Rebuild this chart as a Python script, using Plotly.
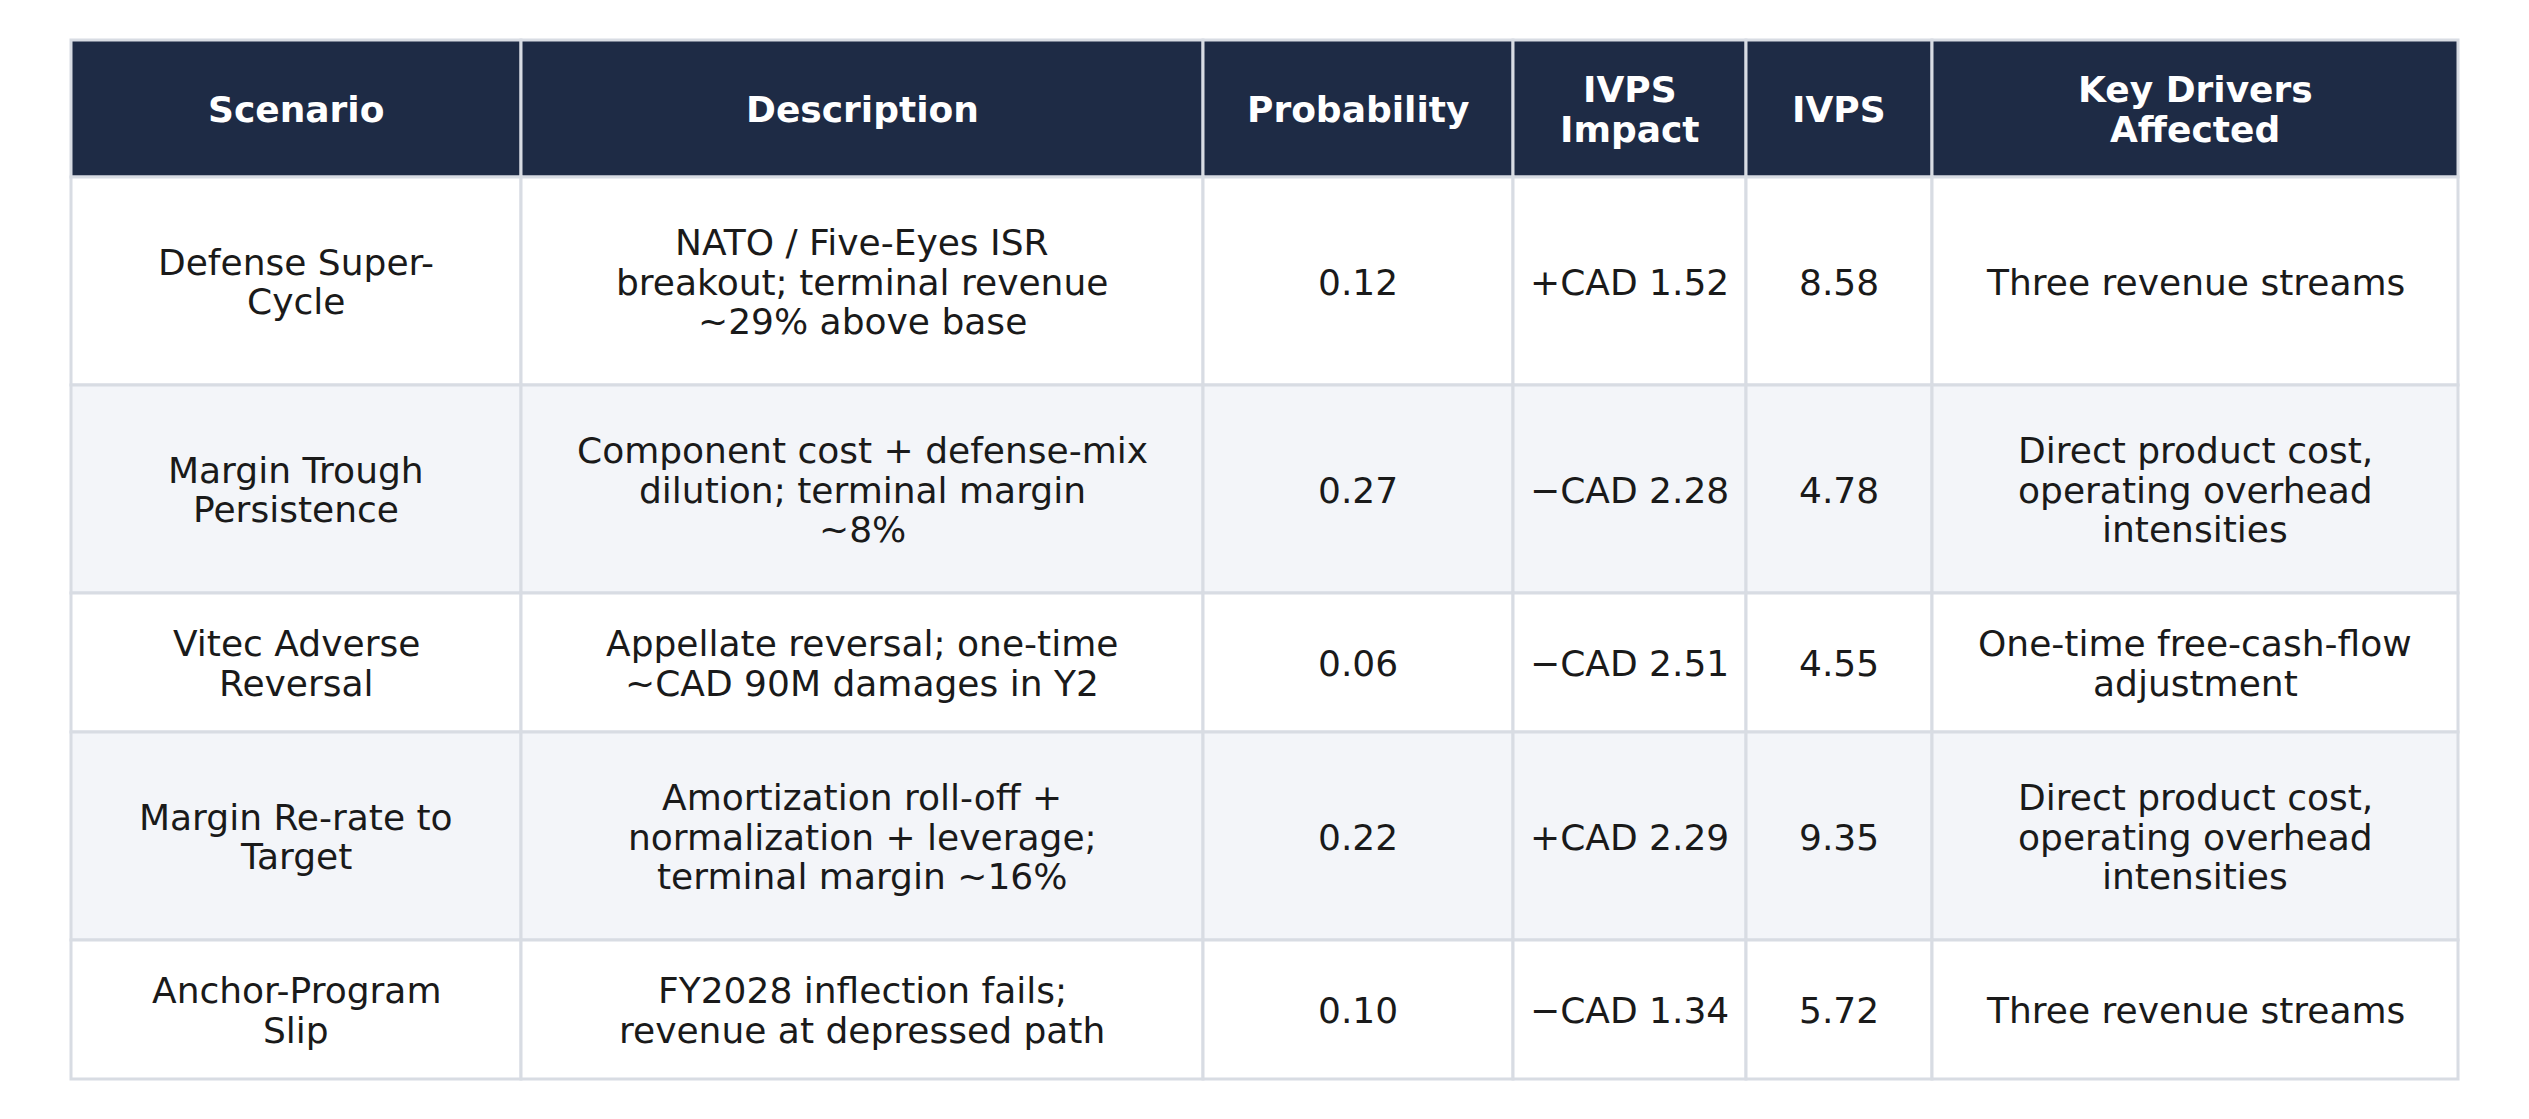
import plotly.graph_objects as go

# table content (line breaks as in the source table)
headers = ["Scenario", "Description", "Probability", "IVPS<br>Impact", "IVPS", "Key Drivers<br>Affected"]
scenarios = [
    "Defense Super-<br>Cycle",
    "Margin Trough<br>Persistence",
    "Vitec Adverse<br>Reversal",
    "Margin Re-rate to<br>Target",
    "Anchor-Program<br>Slip",
]
descriptions = [
    "NATO / Five-Eyes ISR<br>breakout; terminal revenue<br>~29% above base",
    "Component cost + defense-mix<br>dilution; terminal margin<br>~8%",
    "Appellate reversal; one-time<br>~CAD 90M damages in Y2",
    "Amortization roll-off +<br>normalization + leverage;<br>terminal margin ~16%",
    "FY2028 inflection fails;<br>revenue at depressed path",
]
probabilities = [0.12, 0.27, 0.06, 0.22, 0.10]
ivps_impact = [1.52, -2.28, -2.51, 2.29, -1.34]
ivps = [8.58, 4.78, 4.55, 9.35, 5.72]
key_drivers = [
    "Three revenue streams",
    "Direct product cost,<br>operating overhead<br>intensities",
    "One-time free-cash-flow<br>adjustment",
    "Direct product cost,<br>operating overhead<br>intensities",
    "Three revenue streams",
]


def fmt_impact(v):
    sign = "+" if v >= 0 else "\u2212"
    return f"{sign}CAD {abs(v):.2f}"


rows = []
for i in range(len(scenarios)):
    rows.append([
        scenarios[i],
        descriptions[i],
        f"{probabilities[i]:.2f}",
        fmt_impact(ivps_impact[i]),
        f"{ivps[i]:.2f}",
        key_drivers[i],
    ])

# page geometry (1 axis unit = 1 page pixel; the page body has an 8px margin)
W, H = 2529, 1119
PAD = 8
left, top = 71, 40
col_w = [450, 682, 310, 233, 186, 526]
line_h = 39.5
font_size = 36
header_h = 137

HEADER_BG = "#1e2b45"
ALT_BG = "#f3f5f9"
GRID = "#d8dce3"
TEXT = "#1a1a1a"


def n_lines(s):
    return s.count("<br>") + 1


fig = go.Figure()
shapes = []
annotations = []


def add_cell(x0, y0, w, h, text, fill, color, weight):
    shapes.append(dict(type="rect", xref="x", yref="y", x0=x0, x1=x0 + w, y0=y0, y1=y0 + h,
                       fillcolor=fill, line=dict(color=GRID, width=3), layer="below"))
    lines = text.split("<br>")
    cy = y0 + h / 2 + 1
    for k, ln in enumerate(lines):
        annotations.append(dict(
            x=x0 + w / 2, y=cy + (k - (len(lines) - 1) / 2) * line_h,
            xref="x", yref="y", text=ln, showarrow=False,
            xanchor="center", yanchor="middle",
            font=dict(family="DejaVu Sans", size=font_size, color=color, weight=weight),
        ))


# header row
x = left
for j, h in enumerate(headers):
    add_cell(x, top, col_w[j], header_h, h, HEADER_BG, "white", "bold")
    x += col_w[j]

# body rows
y = top + header_h
for i, r in enumerate(rows):
    n = max(n_lines(c) for c in r)
    rh = 69 * n + 1
    fill = "white" if i % 2 == 0 else ALT_BG
    x = left
    for j, c in enumerate(r):
        add_cell(x, y, col_w[j], rh, c, fill, TEXT, "normal")
        x += col_w[j]
    y += rh

fig.update_layout(
    width=W - 2 * PAD, height=H - 2 * PAD,
    margin=dict(l=0, r=0, t=0, b=0),
    paper_bgcolor="white", plot_bgcolor="white",
    xaxis=dict(range=[PAD, W - PAD], visible=False, fixedrange=True),
    yaxis=dict(range=[H - PAD, PAD], visible=False, fixedrange=True),
    shapes=shapes, annotations=annotations,
    showlegend=False,
)

fig.write_html("out.html")
